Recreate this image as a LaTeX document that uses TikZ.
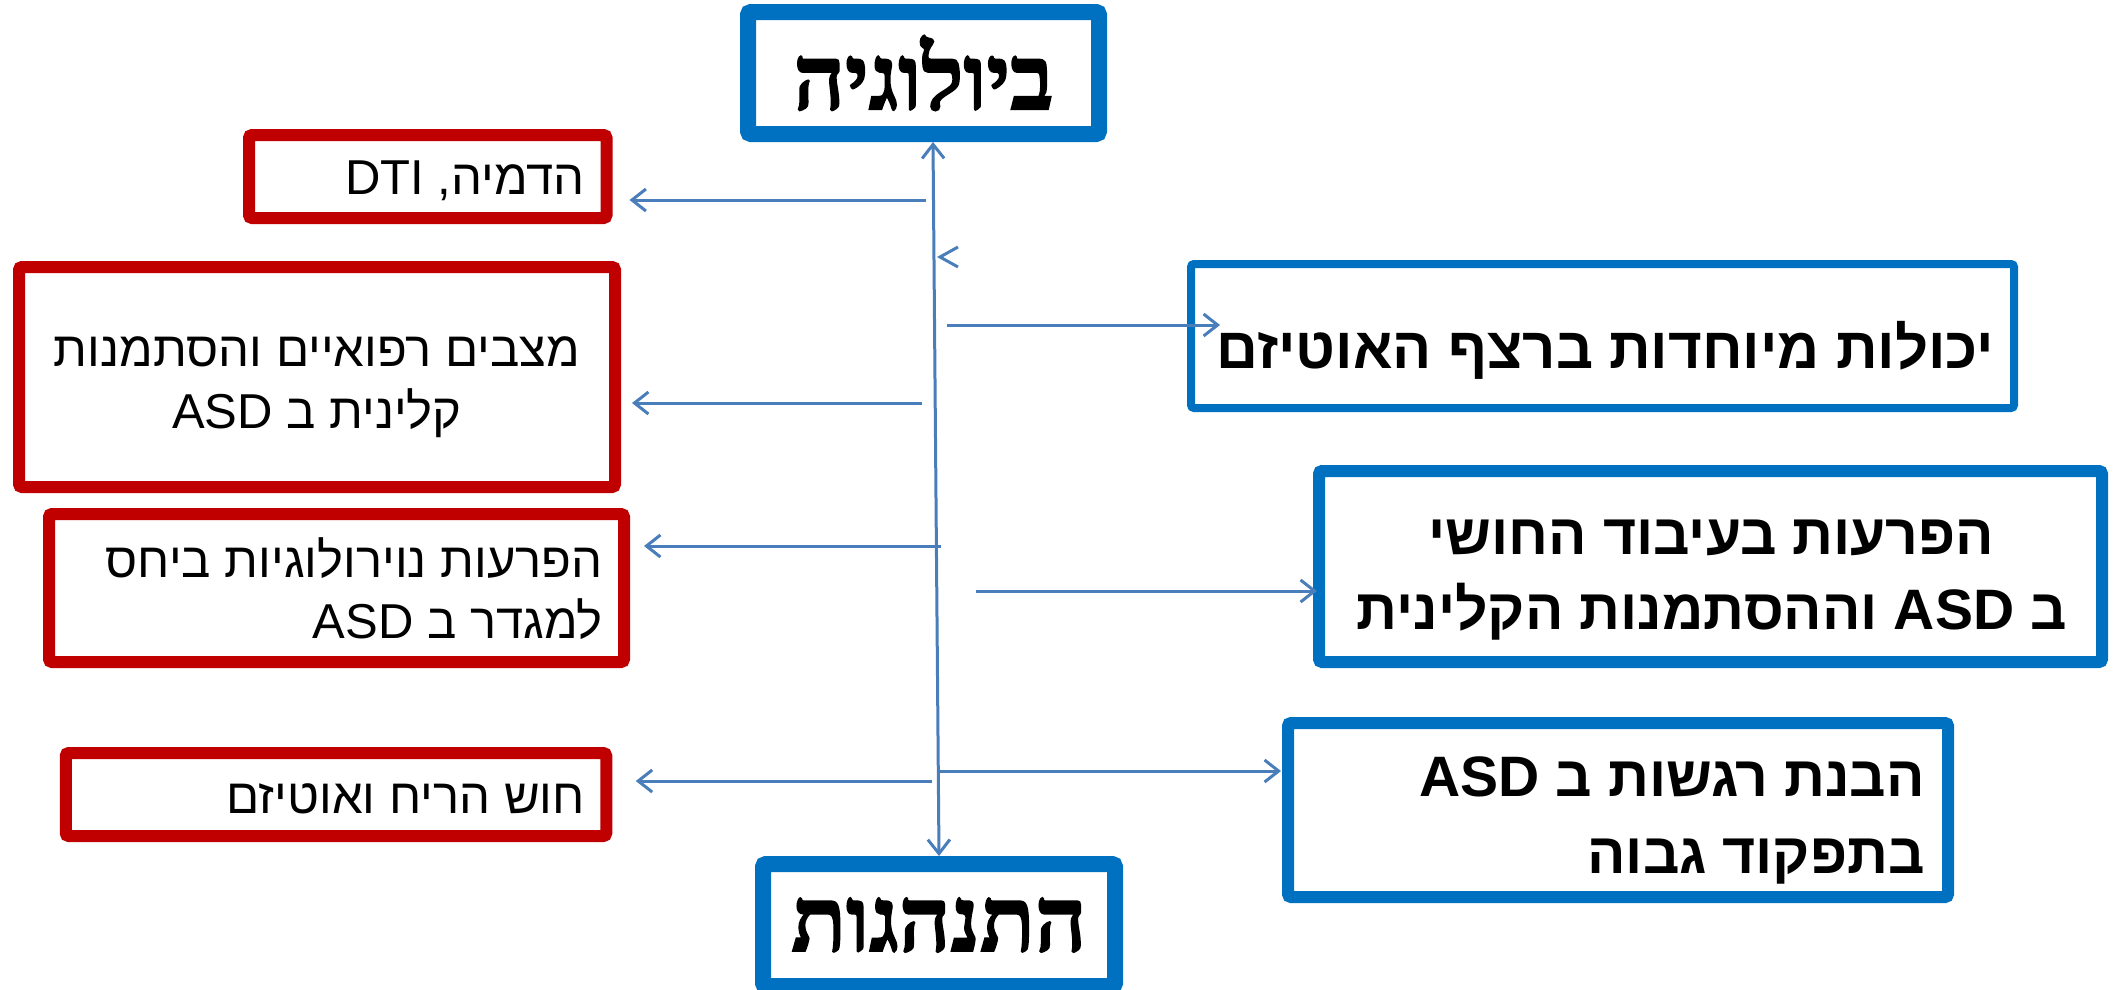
\documentclass[tikz,border=0pt]{standalone}
\usepackage{fontspec}
\usetikzlibrary{arrows.meta,calc}
\TeXXeTstate=1
\newfontfamily\hebsans[Script=Hebrew]{Liberation Sans}
\newfontfamily\hebtitle[Script=Hebrew,BoldFeatures={FakeBold=2}]{Liberation Serif}
\definecolor{boxblue}{HTML}{0070C0}
\definecolor{boxred}{HTML}{C00000}
\definecolor{arrowblue}{HTML}{4A7EBB}
\tikzset{
  bluebox/.style={draw=boxblue, fill=white, rounded corners=3pt, inner sep=0pt},
  redbox/.style={draw=boxred, fill=white, rounded corners=3pt, inner sep=0pt, line width=12pt},
  conn/.style={draw=arrowblue, line width=3pt, -{Straight Barb[length=14pt,width=22pt]}},
  biconn/.style={draw=arrowblue, line width=3pt, {Straight Barb[length=14pt,width=22pt]}-{Straight Barb[length=14pt,width=22pt]}},
  titletxt/.style={font=\hebtitle\bfseries\fontsize{90}{100}\selectfont},
  ltxt/.style={inner sep=0pt, font=\hebsans\fontsize{49}{61.5}\selectfont},
  rtxt/.style 2 args={inner sep=0pt, font=\hebsans\bfseries\fontsize{#1}{#2}\selectfont},
}
\begin{document}
\begin{tikzpicture}[x=1pt,y=-1pt]
\useasboundingbox (0,0) rectangle (2126,989);
% main boxes
\node[bluebox, titletxt, line width=16pt, minimum width=351pt, minimum height=122pt] (top) at (923.5,73) {\beginR ביולוגיה\endR};
\node[bluebox, titletxt, line width=16pt, minimum width=352pt, minimum height=122pt] (bot) at (939,925) {\beginR התנהגות\endR};
% red boxes
\node[redbox, minimum width=357.5pt, minimum height=83pt] (r1) at (427.75,176.5) {};
\node[redbox, minimum width=596pt, minimum height=220pt] (r2) at (317,377) {};
\node[redbox, minimum width=575pt, minimum height=148pt] (r3) at (336.5,588) {};
\node[redbox, minimum width=540.5pt, minimum height=83pt] (r4) at (336,794.5) {};
% blue boxes
\node[bluebox, line width=8pt, minimum width=823pt, minimum height=144pt] (b1) at (1602.5,336) {};
\node[bluebox, line width=12pt, minimum width=783pt, minimum height=191pt] (b2) at (1710.5,566.5) {};
\node[bluebox, line width=12pt, minimum width=660pt, minimum height=174pt] (b3) at (1618,810) {};
% texts
\node[ltxt, anchor=base east] (t1) at (585,194) {\beginR הדמיה, DTI\endR};
\node[ltxt, align=center] (t2) at (317,387) {\beginR מצבים רפואיים והסתמנות\endR\\\beginR קלינית ב ASD\endR};
\node[ltxt, align=right, anchor=east] (t3) at (603,588.5) {\beginR הפרעות נוירולוגיות ביחס\endR\\\beginR למגדר ב ASD\endR};
\node[ltxt, anchor=base east] (t4) at (585,813) {\beginR חוש הריח ואוטיזם\endR};
\node[rtxt={58}{70}, anchor=base] (t5) at (1605.5,368) {\beginR יכולות מיוחדות ברצף האוטיזם\endR};
\node[rtxt={57}{75}, align=center] (t6) at (1711.5,580) {\beginR הפרעות בעיבוד החושי\endR\\\beginR ב ASD וההסתמנות הקלינית\endR};
\node[rtxt={57}{77}, align=right, anchor=east] (t7) at (1925,820) {\beginR הבנת רגשות ב ASD\endR\\\beginR בתפקוד גבוה\endR};
% connector start points on the spine
\coordinate (s1) at (926,200);
\coordinate (s2) at (922,403);
\coordinate (s3) at (941,546);
\coordinate (s4) at (932,781);
\coordinate (e1) at (947,325);
\coordinate (e2) at (976,591);
\coordinate (e3) at (940,771);
% spine
\draw[biconn] ($(top.south)+(9.5,0)$) -- (bot.north);
% left connectors
\draw[conn] (s1) -- ($(s1 -| r1.east)+(17,0)$);
\draw[conn] (s2) -- ($(s2 -| r2.east)+(11,0)$);
\draw[conn] (s3) -- ($(s3 -| r3.east)+(14,0)$);
\draw[conn] (s4) -- ($(s4 -| r4.east)+(23.5,0)$);
% right connectors
\draw[conn] (e1) -- ($(e1 -| b1.west)+(33,0)$);
\draw[conn] (e2) -- ($(e2 -| b2.west)+(4,0)$);
\draw[conn] (e3) -- ($(e3 -| b3.west)+(-1,0)$);
% stray arrowhead mark
\coordinate (m0) at (940,257);
\draw[draw=arrowblue, line width=3pt] ($(m0)+(18,-10)$) -- (m0) -- ($(m0)+(18,10)$);
\end{tikzpicture}
\end{document}
